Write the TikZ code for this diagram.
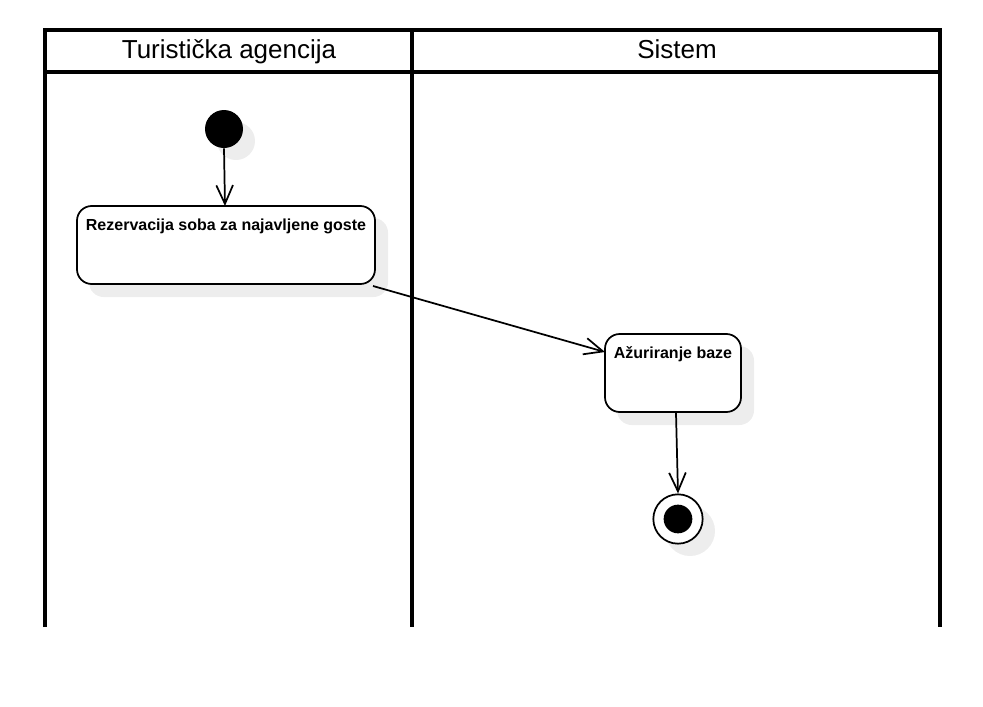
\documentclass[tikz,border=0pt]{standalone}
\usepackage{fontspec}
\setmainfont{Liberation Sans}
\usetikzlibrary{arrows.meta}
\begin{document}
\begin{tikzpicture}[x=0.75pt,y=-0.75pt,
  lane/.style={line width=2.4pt, draw=black},
  act/.style={draw=black, line width=1.3pt, rounded corners=11pt, fill=white},
  shadowfill/.style={fill=black!7, draw=none},
  flow/.style={draw=black, line width=1.3pt, -{Straight Barb[length=14pt,width=12.5pt,line width=1.3pt]}},
  lbl/.style={font=\bfseries\fontsize{12pt}{14pt}\selectfont, anchor=base, inner sep=0pt},
  head/.style={font=\fontsize{19.5pt}{22pt}\selectfont, anchor=base, inner sep=0pt}
]
\useasboundingbox (0,0) rectangle (983,707);
% swimlanes
\draw[lane] (45,627) -- (45,30) -- (940,30) -- (940,627);
\draw[lane] (45,72) -- (940,72);
\draw[lane] (412,30) -- (412,627);
\node[head] (h1) at (229,58) {Turistička agencija};
\node[head] (h2) at (677,58) {Sistem};
% shadows
\fill[shadowfill] (236,141) circle (19);
\fill[shadowfill, rounded corners=11pt] (89,218) rectangle (388,297);
\fill[shadowfill, rounded corners=11pt] (617,346) rectangle (754,425);
\fill[shadowfill] (690,531) circle (25);
% start
\node[circle, fill=black, minimum size=28.5pt, inner sep=0pt] (start) at (224,129) {};
% actions
\draw[act] (77,206) rectangle (375,284);
\coordinate (a1top) at (225,206);
\coordinate (a1br) at (373,286);
\node[lbl] (t1) at (226,230) {Rezervacija soba za najavljene goste};
\draw[act] (605,334) rectangle (741,412);
\coordinate (a2left) at (605,352);
\coordinate (a2bot) at (676,413);
\node[lbl] (t2) at (673,358) {Ažuriranje baze};
% end
\node[circle, draw=black, line width=1.3pt, fill=white, minimum size=37pt, inner sep=0pt] (end) at (678,519) {};
\node[circle, fill=black, minimum size=21.5pt, inner sep=0pt] (endin) at (678,519) {};
% flows
\draw[flow] (start.south) -- (a1top);
\draw[flow] (a1br) -- (a2left);
\draw[flow] (a2bot) -- (end.north);
\end{tikzpicture}
\end{document}
